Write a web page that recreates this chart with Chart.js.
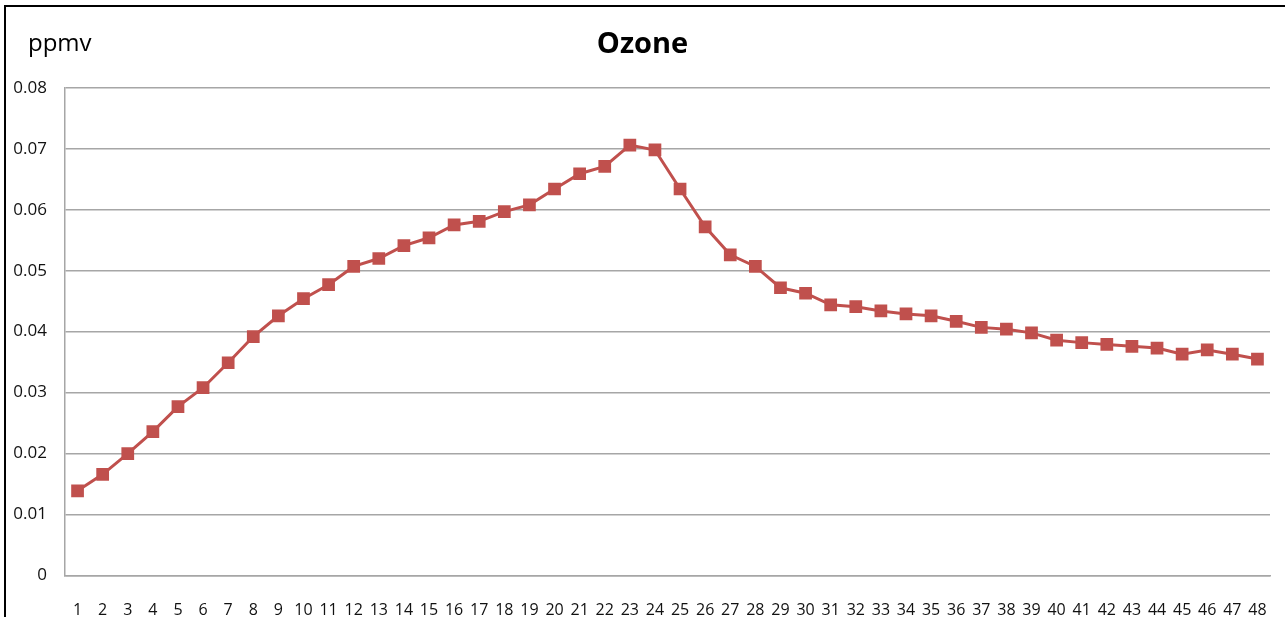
<!DOCTYPE html>
<html>
<head>
<meta charset="utf-8">
<script src="https://cdn.jsdelivr.net/npm/chart.js@4.4.1/dist/chart.umd.min.js"></script>
<style>
    html, body { margin: 0; padding: 0; background: #fff; }
    #wrap { position: relative; width: 1285px; height: 617px; }
    #frame {
        position: absolute; left: 4px; top: 5px; right: -10px; bottom: -10px;
        border-top: 2px solid #000; border-left: 2px solid #000;
        pointer-events: none;
    }
</style>
</head>
<body>
<div id="wrap">
    <canvas id="ozoneChart" width="1285" height="617"></canvas>
    <div id="frame"></div>
</div>
<script>
// Hour index along the x axis
const hours = Array.from({ length: 48 }, (_, i) => String(i + 1));

// Ozone concentration, ppmv
const ozone = [
    0.0139, 0.0166, 0.0200, 0.0236, 0.0277, 0.0308, 0.0349, 0.0392, 0.0426, 0.0454,
    0.0477, 0.0507, 0.0520, 0.0541, 0.0554, 0.0575, 0.0581, 0.0597, 0.0608, 0.0634,
    0.0659, 0.0671, 0.0706, 0.0698, 0.0634, 0.0572, 0.0526, 0.0507, 0.0472, 0.0463,
    0.0444, 0.0441, 0.0434, 0.0429, 0.0426, 0.0417, 0.0407, 0.0404, 0.0398, 0.0386,
    0.0382, 0.0379, 0.0376, 0.0373, 0.0363, 0.0370, 0.0363, 0.0355
];

const yTicks = [0, 0.01, 0.02, 0.03, 0.04, 0.05, 0.06, 0.07, 0.08];

const FONT = "'Open Sans', sans-serif";
const GRID = '#a6a6a6';
const RED = '#c0504d';

// Unit label in the top-left corner
const unitLabel = {
    id: 'unitLabel',
    afterDraw: function (chart) {
        const ctx = chart.ctx;
        ctx.save();
        ctx.font = '24px ' + FONT;
        ctx.fillStyle = '#000';
        ctx.textBaseline = 'alphabetic';
        ctx.fillText('ppmv', 28, 51);
        ctx.restore();
    }
};

const ctx = document.getElementById('ozoneChart').getContext('2d');

new Chart(ctx, {
    type: 'line',
    data: {
        labels: hours,
        datasets: [{
            label: 'Ozone',
            data: ozone,
            borderColor: RED,
            backgroundColor: RED,
            borderWidth: 3,
            pointStyle: 'rect',
            pointRadius: 9,
            pointBorderWidth: 0,
            pointBackgroundColor: RED,
            tension: 0
        }]
    },
    options: {
        responsive: false,
        animation: false,
        layout: {
            padding: 0
        },
        scales: {
            x: {
                offset: true,
                grid: { display: false },
                border: { display: true, color: GRID, width: 1.5 },
                ticks: {
                    autoSkip: false,
                    maxRotation: 0,
                    padding: 17,
                    color: '#111',
                    font: { family: FONT, size: 16 }
                },
                afterFit: function (scale) {
                    scale.height = 41.5;
                }
            },
            y: {
                min: 0,
                max: 0.08,
                afterBuildTicks: function (scale) {
                    scale.ticks = yTicks.map(v => ({ value: v }));
                },
                grid: {
                    color: GRID,
                    lineWidth: 1.5,
                    drawTicks: false
                },
                border: { display: true, color: GRID, width: 1.5 },
                ticks: {
                    padding: 18,
                    color: '#111',
                    font: { family: FONT, size: 17 },
                    callback: function (value) {
                        return value === 0 ? '0' : value.toFixed(2);
                    }
                },
                afterFit: function (scale) {
                    scale.width = 65;
                }
            },
            // empty right-hand spacer so the title centres on the whole frame
            spacer: {
                position: 'right',
                display: true,
                grid: { display: false },
                border: { display: false },
                ticks: { display: false },
                afterFit: function (scale) {
                    scale.width = 15;
                }
            }
        },
        plugins: {
            legend: { display: false },
            tooltip: { enabled: false },
            title: {
                display: true,
                text: 'Ozone',
                color: '#000',
                font: { family: FONT, size: 29, weight: 'bold' },
                padding: { top: 27, bottom: 26 }
            }
        }
    },
    plugins: [unitLabel]
});
</script>
</body>
</html>
